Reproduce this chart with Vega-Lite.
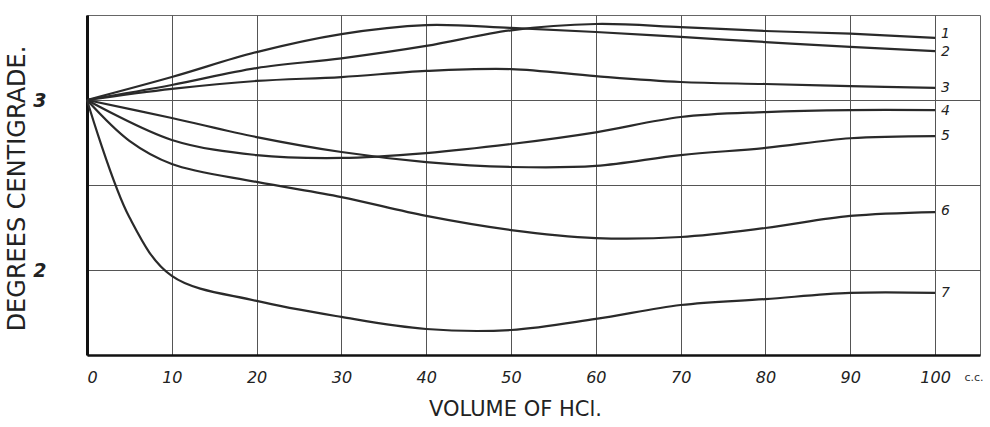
{
  "$schema": "https://vega.github.io/schema/vega-lite/v6.json",
  "width": 893,
  "height": 340,
  "autosize": "none",
  "padding": {"left": 87, "top": 15, "right": 10, "bottom": 72},
  "background": "white",
  "config": {
    "view": {"stroke": "#666", "strokeWidth": 1},
    "font": "DejaVu Sans"
  },
  "datasets": {
    "curves": [
      {"curve": "1", "x": 0, "y": 3.0}, {"curve": "1", "x": 10, "y": 3.088}, {"curve": "1", "x": 20, "y": 3.188}, {"curve": "1", "x": 30, "y": 3.245}, {"curve": "1", "x": 40, "y": 3.318}, {"curve": "1", "x": 50, "y": 3.41}, {"curve": "1", "x": 60, "y": 3.447}, {"curve": "1", "x": 70, "y": 3.429}, {"curve": "1", "x": 80, "y": 3.406}, {"curve": "1", "x": 90, "y": 3.39}, {"curve": "1", "x": 100, "y": 3.365},
      {"curve": "2", "x": 0, "y": 3.0}, {"curve": "2", "x": 10, "y": 3.135}, {"curve": "2", "x": 20, "y": 3.282}, {"curve": "2", "x": 30, "y": 3.388}, {"curve": "2", "x": 40, "y": 3.441}, {"curve": "2", "x": 50, "y": 3.424}, {"curve": "2", "x": 60, "y": 3.4}, {"curve": "2", "x": 70, "y": 3.371}, {"curve": "2", "x": 80, "y": 3.341}, {"curve": "2", "x": 90, "y": 3.312}, {"curve": "2", "x": 100, "y": 3.288},
      {"curve": "3", "x": 0, "y": 3.0}, {"curve": "3", "x": 10, "y": 3.065}, {"curve": "3", "x": 20, "y": 3.112}, {"curve": "3", "x": 30, "y": 3.135}, {"curve": "3", "x": 40, "y": 3.171}, {"curve": "3", "x": 50, "y": 3.182}, {"curve": "3", "x": 60, "y": 3.14}, {"curve": "3", "x": 70, "y": 3.106}, {"curve": "3", "x": 80, "y": 3.094}, {"curve": "3", "x": 90, "y": 3.082}, {"curve": "3", "x": 100, "y": 3.071},
      {"curve": "4", "x": 0, "y": 3.0}, {"curve": "4", "x": 10, "y": 2.765}, {"curve": "4", "x": 20, "y": 2.676}, {"curve": "4", "x": 30, "y": 2.659}, {"curve": "4", "x": 40, "y": 2.688}, {"curve": "4", "x": 50, "y": 2.741}, {"curve": "4", "x": 60, "y": 2.81}, {"curve": "4", "x": 70, "y": 2.9}, {"curve": "4", "x": 80, "y": 2.929}, {"curve": "4", "x": 90, "y": 2.941}, {"curve": "4", "x": 100, "y": 2.941},
      {"curve": "5", "x": 0, "y": 3.0}, {"curve": "5", "x": 10, "y": 2.894}, {"curve": "5", "x": 20, "y": 2.782}, {"curve": "5", "x": 30, "y": 2.694}, {"curve": "5", "x": 40, "y": 2.635}, {"curve": "5", "x": 50, "y": 2.606}, {"curve": "5", "x": 60, "y": 2.612}, {"curve": "5", "x": 70, "y": 2.676}, {"curve": "5", "x": 80, "y": 2.718}, {"curve": "5", "x": 90, "y": 2.775}, {"curve": "5", "x": 100, "y": 2.788},
      {"curve": "6", "x": 0, "y": 3.0}, {"curve": "6", "x": 5, "y": 2.76}, {"curve": "6", "x": 10, "y": 2.624}, {"curve": "6", "x": 20, "y": 2.518}, {"curve": "6", "x": 30, "y": 2.429}, {"curve": "6", "x": 40, "y": 2.318}, {"curve": "6", "x": 50, "y": 2.235}, {"curve": "6", "x": 60, "y": 2.188}, {"curve": "6", "x": 70, "y": 2.194}, {"curve": "6", "x": 80, "y": 2.247}, {"curve": "6", "x": 90, "y": 2.318}, {"curve": "6", "x": 100, "y": 2.341},
      {"curve": "7", "x": 0, "y": 3.0}, {"curve": "7", "x": 5, "y": 2.31}, {"curve": "7", "x": 10, "y": 1.965}, {"curve": "7", "x": 20, "y": 1.818}, {"curve": "7", "x": 30, "y": 1.724}, {"curve": "7", "x": 40, "y": 1.653}, {"curve": "7", "x": 50, "y": 1.647}, {"curve": "7", "x": 60, "y": 1.712}, {"curve": "7", "x": 70, "y": 1.794}, {"curve": "7", "x": 80, "y": 1.829}, {"curve": "7", "x": 90, "y": 1.865}, {"curve": "7", "x": 100, "y": 1.865}
    ],
    "labels": [
      {"curve": "1", "x": 100, "y": 3.39},
      {"curve": "2", "x": 100, "y": 3.28},
      {"curve": "3", "x": 100, "y": 3.071},
      {"curve": "4", "x": 100, "y": 2.935},
      {"curve": "5", "x": 100, "y": 2.79},
      {"curve": "6", "x": 100, "y": 2.345},
      {"curve": "7", "x": 100, "y": 1.865}
    ],
    "unit": [
      {"x": 104.6, "y": 1.365, "text": "c.c."}
    ]
  },
  "layer": [
    {
      "data": {"name": "curves"},
      "mark": {"type": "line", "interpolate": "catmull-rom", "color": "#2a2a2a", "strokeWidth": 2.2},
      "encoding": {
        "x": {
          "field": "x", "type": "quantitative",
          "scale": {"domain": [0, 105.3], "nice": false, "zero": false},
          "axis": {
            "values": [0, 10, 20, 30, 40, 50, 60, 70, 80, 90, 100],
            "grid": true, "gridColor": "#555", "gridWidth": 1, "gridOpacity": 1,
            "domain": true, "domainColor": "#111", "domainWidth": 2.5,
            "ticks": false,
            "labelPadding": 14, "labelFontSize": 16, "labelFontStyle": "italic", "labelColor": "#222", "labelFont": "DejaVu Sans",
            "title": "VOLUME OF HCl.", "titleFontSize": 21, "titleFontWeight": "normal", "titleColor": "#222", "titleFont": "DejaVu Sans",
            "titleX": 428, "titleY": 60, "titleBaseline": "alphabetic"
          }
        },
        "y": {
          "field": "y", "type": "quantitative",
          "scale": {"domain": [1.5, 3.5], "nice": false, "zero": false},
          "axis": {
            "values": [2, 2.5, 3],
            "labelExpr": "datum.value == 2.5 ? '' : format(datum.value, 'd')",
            "grid": true, "gridColor": "#555", "gridWidth": 1, "gridOpacity": 1,
            "domain": true, "domainColor": "#111", "domainWidth": 3,
            "ticks": false,
            "labelPadding": 41, "labelFontSize": 19, "labelFontStyle": "italic", "labelFontWeight": "bold", "labelColor": "#222", "labelFont": "DejaVu Sans",
            "title": "DEGREES CENTIGRADE.", "titleFontSize": 24, "titleFontWeight": "normal", "titleColor": "#222", "titleFont": "DejaVu Sans",
            "titleX": -70, "titleY": 173, "titleAngle": -90, "titleBaseline": "middle", "titleAlign": "center"
          }
        },
        "detail": {"field": "curve", "type": "nominal"}
      }
    },
    {
      "data": {"name": "labels"},
      "mark": {"type": "text", "align": "left", "baseline": "middle", "dx": 6, "fontSize": 14, "fontStyle": "italic", "color": "#222", "font": "DejaVu Sans"},
      "encoding": {
        "x": {"field": "x", "type": "quantitative"},
        "y": {"field": "y", "type": "quantitative"},
        "text": {"field": "curve", "type": "nominal"}
      }
    },
    {
      "data": {"name": "unit"},
      "mark": {"type": "text", "align": "center", "baseline": "middle", "fontSize": 11, "color": "#333", "clip": false, "font": "DejaVu Sans"},
      "encoding": {
        "x": {"field": "x", "type": "quantitative"},
        "y": {"field": "y", "type": "quantitative"},
        "text": {"field": "text", "type": "nominal"}
      }
    }
  ]
}
